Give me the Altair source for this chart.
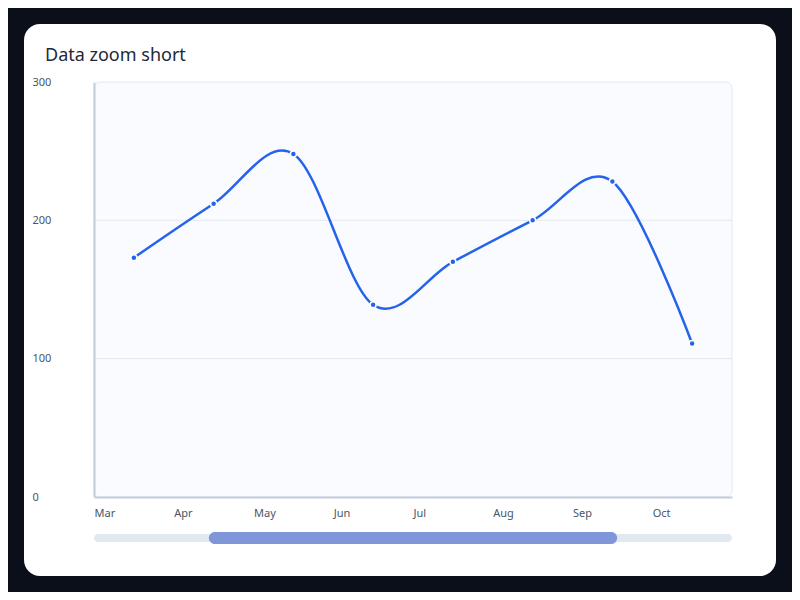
import altair as alt
import pandas as pd

# ---- data ----
months = ["Mar", "Apr", "May", "Jun", "Jul", "Aug", "Sep", "Oct"]
values = [173, 212, 248, 139, 170, 200, 228, 111]
y_ticks = [0, 100, 200, 300]
grid_values = [100, 200]
zoom_window = [18, 82]   # data-zoom window, percent of full range
title_text = ["Data zoom short"]

W, H = 638, 415
FONT = "Noto Sans"
LINE = "#2563eb"
LABEL = "#4a5565"

df = pd.DataFrame({"month": months, "value": values})
one = pd.DataFrame({"a": [0]})

y_scale = alt.Scale(domain=[0, 300], nice=False)
y_axis = alt.Axis(
    values=y_ticks, grid=False, ticks=False, labelAlign="left", labelPadding=62,
    labelBaseline="middle", labelFontSize=11, labelColor=LABEL, labelFont=FONT,
    domainColor="#c3cedd", domainWidth=2, title=None, zindex=1,
)
x_enc = alt.X(
    "month:N", sort=months, scale=alt.Scale(type="point", padding=0.5),
    axis=alt.Axis(
        title=None, ticks=False, labelAlign="left", labelOffset=-W / 16,
        labelPadding=10, labelFontSize=11, labelColor=LABEL, labelFont=FONT,
        labelAngle=0, domainColor="#c3cedd", domainWidth=2, zindex=1,
    ),
)

card = alt.Chart(one).mark_rect(color="white", cornerRadius=16).encode(
    x=alt.value(-70), x2=alt.value(682), y=alt.value(-58), y2=alt.value(494)
)
plot_bg = alt.Chart(one).mark_rect(
    fill="#f9fbff", stroke="#e2e8f0", strokeWidth=1, cornerRadius=6
).encode(x=alt.value(0), x2=alt.value(W), y=alt.value(0), y2=alt.value(H))

grid = alt.Chart(pd.DataFrame({"value": grid_values})).mark_rule(
    color="#e3e8f0", strokeWidth=1
).encode(
    y=alt.Y("value:Q", scale=y_scale, axis=y_axis),
    x=alt.value(0), x2=alt.value(W),
)

line = alt.Chart(df).mark_line(
    interpolate="cardinal", color=LINE, strokeWidth=2.5
).encode(x=x_enc, y=alt.Y("value:Q", scale=y_scale, axis=y_axis))

points = alt.Chart(df).mark_circle(
    size=36, color=LINE, opacity=1, stroke="white", strokeWidth=1.5
).encode(x=x_enc, y=alt.Y("value:Q", scale=y_scale, axis=y_axis))

track = alt.Chart(pd.DataFrame({"s": [0], "e": [100]})).mark_rect(
    color="#e2e8f0", cornerRadius=4
).encode(
    x=alt.X("s:Q", scale=alt.Scale(domain=[0, 100], nice=False), axis=None),
    x2="e:Q", y=alt.value(452), y2=alt.value(460),
)
handle = alt.Chart(pd.DataFrame({"s": [zoom_window[0]], "e": [zoom_window[1]]})).mark_rect(
    color="#7f96d8", cornerRadius=6
).encode(
    x=alt.X("s:Q", scale=alt.Scale(domain=[0, 100], nice=False), axis=None),
    x2="e:Q", y=alt.value(450), y2=alt.value(462),
)

title = alt.Chart(pd.DataFrame({"t": title_text})).mark_text(
    align="left", baseline="alphabetic", fontSize=18, font=FONT, color="#1e293b"
).encode(text="t:N", x=alt.value(-49), y=alt.value(-21))

main = alt.layer(grid, line, points)
slider = alt.layer(track, handle)

chart = alt.layer(card, plot_bg, main, slider, title).resolve_scale(
    x="independent"
).properties(
    width=W, height=H,
    autosize=alt.AutoSizeParams(type="none"),
    padding={"left": 86, "top": 74, "right": 60, "bottom": 95},
).configure(background="#0b0f19").configure_view(stroke=None)

chart.save("out.html", embed_options={"renderer": "svg", "actions": False})
